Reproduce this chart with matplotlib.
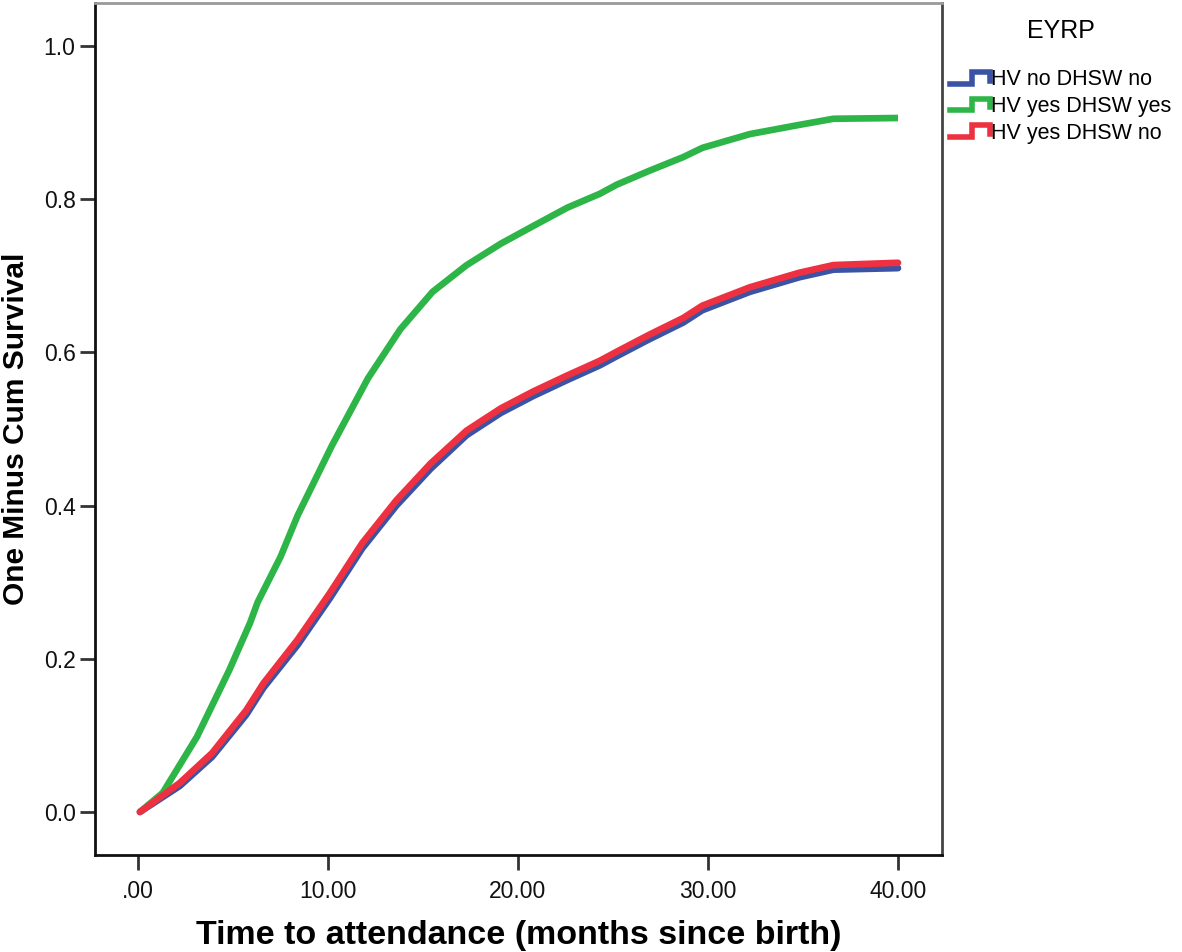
import matplotlib
matplotlib.use("Agg")
import matplotlib.pyplot as plt
from matplotlib.legend_handler import HandlerBase
from matplotlib.lines import Line2D
from matplotlib import font_manager

plt.rcParams['font.family'] = ['Liberation Sans', 'DejaVu Sans']

# time points (months since birth)
t_green = [0.1, 1.3, 3.1, 4.8, 5.9, 6.3, 7.5, 8.4, 10.2, 12.1, 13.8, 15.5, 17.3, 19.1,
           20.8, 22.6, 24.3, 25.2, 26.9, 28.7, 29.7, 32.2, 34.8, 36.6, 40.0]
v_green = [0.0, 0.025, 0.098, 0.185, 0.247, 0.274, 0.333, 0.387, 0.478, 0.566, 0.630,
           0.679, 0.714, 0.742, 0.765, 0.789, 0.807, 0.819, 0.837, 0.855, 0.867, 0.885,
           0.897, 0.905, 0.906]

t_red = [0.1, 2.2, 3.9, 5.7, 6.6, 8.4, 10.1, 11.8, 13.6, 15.4, 17.3, 19.1, 20.8, 22.6,
         24.3, 25.2, 26.9, 28.7, 29.7, 32.2, 34.8, 36.6, 40.0]
v_red = [0.0, 0.038, 0.077, 0.133, 0.168, 0.225, 0.286, 0.351, 0.407, 0.455, 0.498,
         0.527, 0.549, 0.570, 0.589, 0.601, 0.623, 0.645, 0.661, 0.685, 0.704, 0.714, 0.717]

t_blue = t_red
v_blue = [0.0, 0.034, 0.072, 0.127, 0.162, 0.218, 0.279, 0.344, 0.400, 0.448, 0.492,
          0.521, 0.543, 0.564, 0.583, 0.595, 0.617, 0.639, 0.655, 0.679, 0.698, 0.708, 0.710]

labels = ["HV no DHSW no", "HV yes DHSW yes", "HV yes DHSW no"]
colors = ["#3a53a4", "#2db548", "#ee3140"]

x_ticks = [0, 10, 20, 30, 40]
x_tick_labels = [".00", "10.00", "20.00", "30.00", "40.00"]
y_ticks = [0.0, 0.2, 0.4, 0.6, 0.8, 1.0]
y_tick_labels = ["0.0", "0.2", "0.4", "0.6", "0.8", "1.0"]

fig = plt.figure(figsize=(11.82, 9.52), dpi=100)
ax = fig.add_axes([95/1182, 1-855/952, (942-95)/1182, (855-3)/952])

lw = 4.8
hb, = ax.plot(t_blue, v_blue, color=colors[0], lw=lw, solid_capstyle='round',
              solid_joinstyle='round', zorder=2)
hg, = ax.plot(t_green, v_green, color=colors[1], lw=lw, solid_capstyle='butt',
              solid_joinstyle='round', zorder=3)
hr, = ax.plot(t_red, v_red, color=colors[2], lw=lw, solid_capstyle='round',
              solid_joinstyle='round', zorder=4)

ax.set_xlim((95-138)/19, (942-138)/19)
ax.set_ylim((812-855)/766, (812-3)/766)
ax.set_xticks(x_ticks)
ax.set_xticklabels(x_tick_labels)
ax.set_yticks(y_ticks)
ax.set_yticklabels(y_tick_labels)
ax.tick_params(axis='both', direction='out', length=11, width=2, color='#333333',
               labelsize=16.5, labelcolor='#111111')
ax.tick_params(axis='y', pad=3)
ax.tick_params(axis='x', pad=7)

for s in ['left', 'bottom']:
    ax.spines[s].set_color('#111111')
    ax.spines[s].set_linewidth(2)
ax.spines['top'].set_color('#999999')
ax.spines['top'].set_linewidth(2)
ax.spines['right'].set_color('#444444')
ax.spines['right'].set_linewidth(2)

names = {f.name for f in font_manager.fontManager.ttflist}
if 'Liberation Sans Narrow' in names:
    xl_family = ['Liberation Sans Narrow', 'DejaVu Sans']
    xl_size = 29
else:
    xl_family = ['Liberation Sans', 'DejaVu Sans']
    xl_size = 24.5

ax.set_xlabel("Time to attendance (months since birth)", fontsize=xl_size,
              fontweight='bold', family=xl_family, labelpad=12)
ax.set_ylabel("One Minus Cum Survival", fontsize=21.5, fontweight='bold', labelpad=10)


class StepHandler(HandlerBase):
    def create_artists(self, legend, orig_handle, xdescent, ydescent, width, height,
                       fontsize, trans):
        x0 = -xdescent
        y0 = -ydescent
        xs = [x0, x0 + 0.55 * width, x0 + 0.55 * width, x0 + width, x0 + width]
        ys = [y0 + 0.12 * height, y0 + 0.12 * height, y0 + 0.88 * height, y0 + 0.88 * height,
              y0 + 0.3 * height]
        ln = Line2D(xs, ys, color=orig_handle.get_color(), lw=4, solid_joinstyle='miter')
        ln.set_transform(trans)
        return [ln]


leg = fig.legend([hb, hg, hr], labels, title="EYRP", loc='upper left',
                 bbox_to_anchor=(950/1182, 1-19/952), frameon=False, fontsize=15.5,
                 title_fontsize=18, handler_map={Line2D: StepHandler()},
                 handlelength=1.85, handletextpad=0.05, labelspacing=0.26, borderaxespad=0,
                 borderpad=0)
leg._legend_box.align = "center"
leg._legend_box.sep = 19

fig.savefig("out.png", dpi=100)
